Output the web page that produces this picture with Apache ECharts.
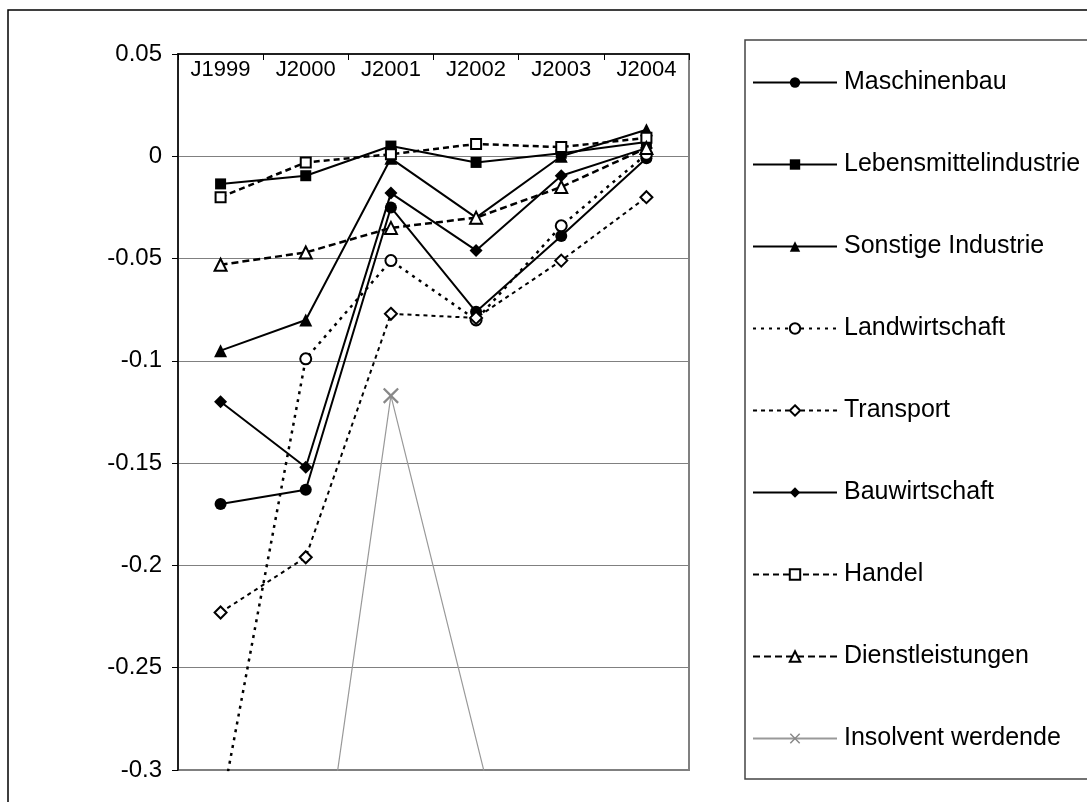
<!DOCTYPE html>
<html><head><meta charset="utf-8">
<script src="https://cdn.jsdelivr.net/npm/echarts@6/dist/echarts.min.js"></script>
<style>html,body{margin:0;padding:0;background:#fff}#c{width:1087px;height:802px}</style>
</head><body><div id="c"></div>
<script>
const categories = ['J1999','J2000','J2001','J2002','J2003','J2004'];
const maschinenbau = [-0.170, -0.163, -0.025, -0.076, -0.039, -0.001];
const lebensmittel = [-0.0135, -0.0095, 0.005, -0.003, 0.0015, 0.007];
const sonstige = [-0.095, -0.080, -0.001, -0.030, 0.000, 0.013];
const landwirtschaft = [-0.32, -0.099, -0.051, -0.080, -0.034, 0.001];
const transport = [-0.223, -0.196, -0.077, -0.079, -0.051, -0.020];
const bauwirtschaft = [-0.120, -0.152, -0.018, -0.046, -0.0095, 0.004];
const handel = [-0.020, -0.003, 0.001, 0.006, 0.0045, 0.009];
const dienstleistungen = [-0.053, -0.047, -0.035, -0.030, -0.015, 0.004];
const insolvent = [null, -0.41, -0.117, null, -0.453, null];
const yTicks = {min: -0.3, max: 0.05, interval: 0.05};

const FONT = 'Liberation Sans, Arial, sans-serif';
const X_PATH = 'path://M0,1L1,0L5,4L9,0L10,1L6,5L10,9L9,10L5,6L1,10L0,9L4,5Z';

function solid(name, data, symbol, size) {
  return {name, type:'line', data, symbol, symbolSize:size,
    lineStyle:{color:'#000', width:2, type:'solid'},
    itemStyle:{color:'#000', borderWidth:0}};
}
function dashed(name, data, symbol, size, dash, width) {
  return {name, type:'line', data, symbol, symbolSize:size,
    lineStyle:{color:'#000', width:width, type:dash},
    itemStyle:{color:'#000', borderColor:'#000', borderWidth:1.5}};
}

const series = [
  solid('Maschinenbau', maschinenbau, 'circle', 12),
  solid('Lebensmittelindustrie', lebensmittel, 'rect', 11),
  solid('Sonstige Industrie', sonstige, 'triangle', 13),
  dashed('Landwirtschaft', landwirtschaft, 'emptyCircle', 11, [3,5], 2.5),
  dashed('Transport', transport, 'emptyDiamond', 12, [4,4], 2),
  solid('Bauwirtschaft', bauwirtschaft, 'diamond', 13),
  dashed('Handel', handel, 'emptyRect', 10, [6,4], 2.5),
  dashed('Dienstleistungen', dienstleistungen, 'emptyTriangle', 12, [7,4], 2.5),
  {name:'Insolvent werdende', type:'line', data:insolvent, symbol:X_PATH, symbolSize:16,
    connectNulls:true,
    lineStyle:{color:'#999', width:1.2}, itemStyle:{color:'#888', borderWidth:0}}
];
series.forEach(s => { s.animation = false; s.emphasis = {disabled:true}; s.z = 3; });

const chart = echarts.init(document.getElementById('c'), null, {renderer:'canvas'});
chart.setOption({
  animation:false,
  backgroundColor:'#fff',
  textStyle:{fontFamily:FONT},
  grid:{left:178, top:54, width:511, height:716, show:true, borderColor:'#808080', borderWidth:2, backgroundColor:'transparent'},
  graphic:[
    {type:'rect', shape:{x:8, y:10, width:1200, height:1000}, style:{fill:'none', stroke:'#000', lineWidth:1.5}, z:0},
    {type:'rect', shape:{x:745, y:40, width:500, height:739}, style:{fill:'none', stroke:'#444', lineWidth:1.5}, z:0}
  ],
  legend:{
    orient:'vertical', left:752, top:70, padding:0,
    itemWidth:84, itemHeight:13, itemGap:57,
    textStyle:{fontFamily:FONT, fontSize:25, color:'#000', padding:[0,0,0,2], lineHeight:25},
    data: series.map(s => s.name)
  },
  xAxis:{
    type:'category', data:categories, position:'top', boundaryGap:true,
    axisLine:{show:true, onZero:false, lineStyle:{color:'#000', width:1.5}},
    axisTick:{show:true, inside:true, length:6, lineStyle:{color:'#000'}},
    axisLabel:{inside:true, margin:5, fontFamily:FONT, fontSize:22, color:'#000', interval:0},
    splitLine:{show:false}
  },
  yAxis:{
    type:'value', min:yTicks.min, max:yTicks.max, interval:yTicks.interval,
    axisLine:{show:true, lineStyle:{color:'#000', width:1.5}},
    axisTick:{show:true, inside:false, length:6, lineStyle:{color:'#000'}},
    axisLabel:{margin:16, fontFamily:FONT, fontSize:24, color:'#000',
      formatter: v => String(+v.toFixed(2))},
    splitLine:{show:true, lineStyle:{color:'#808080', width:1}}
  },
  series
});
</script></body></html>
